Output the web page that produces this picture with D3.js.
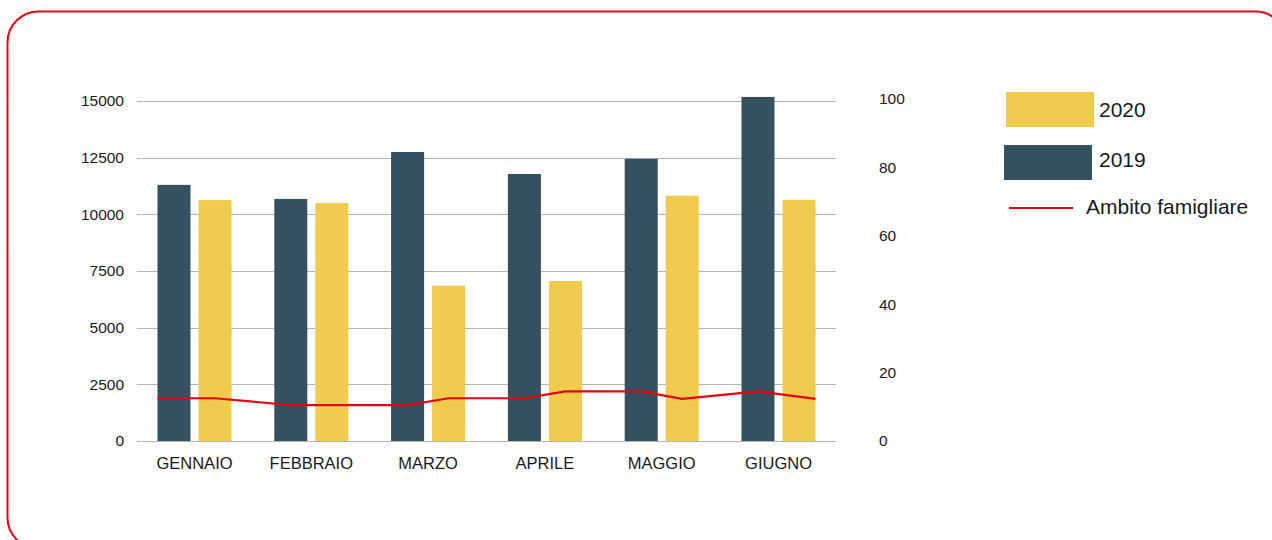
<!DOCTYPE html>
<html>
<head>
<meta charset="utf-8">
<script src="https://cdn.jsdelivr.net/npm/d3@7/dist/d3.min.js"></script>
<style>
  html, body { margin: 0; padding: 0; background: #fff; }
  svg { display: block; font-family: "Liberation Sans", Arial, Helvetica, sans-serif; }
</style>
</head>
<body>
<svg id="chart" width="1272" height="540"></svg>
<script>
// Monthly totals, 2019 vs 2020, with the "Ambito famigliare" share on the right axis
const months = ["GENNAIO", "FEBBRAIO", "MARZO", "APRILE", "MAGGIO", "GIUGNO"];
const years = ["2019", "2020"];
const values2019 = [11300, 10680, 12750, 11780, 12450, 15180];
const values2020 = [10630, 10500, 6850, 7060, 10820, 10640];
// one value per bar (month × year), read on the 0–100 scale
const famiglia = [12.5, 12.5, 10.5, 10.5, 10.5, 12.5, 12.5, 14.5, 14.5, 12.3, 14.5, 12.3];
const leftTicks = [0, 2500, 5000, 7500, 10000, 12500, 15000];
const rightTicks = [0, 20, 40, 60, 80, 100];

const colors = { "2019": "#35505e", "2020": "#f1cb4d" };
const red = "#e30613";

const svg = d3.select("#chart");

// rounded red frame
svg.append("rect")
  .attr("x", 7.5).attr("y", 11.5)
  .attr("width", 1279).attr("height", 537)
  .attr("rx", 31).attr("ry", 31)
  .attr("fill", "none").attr("stroke", red).attr("stroke-width", 2);

const plot = { left: 137, right: 836, top: 101, bottom: 441 };

const x0 = d3.scaleBand().domain(months)
  .range([plot.left, plot.right])
  .paddingInner(0.3664).paddingOuter(0.1755);
const x1 = d3.scaleBand().domain(years)
  .range([0, x0.bandwidth()])
  .paddingInner(0.195).paddingOuter(0);
const yL = d3.scaleLinear().domain([0, 15000]).range([plot.bottom, plot.top]);
const yR = d3.scaleLinear().domain([0, 100]).range([plot.bottom, 99]);

// gridlines
svg.append("g")
  .selectAll("line").data(leftTicks).join("line")
  .attr("x1", plot.left).attr("x2", plot.right)
  .attr("y1", d => Math.round(yL(d)) + 0.5).attr("y2", d => Math.round(yL(d)) + 0.5)
  .attr("stroke", "#b4b4b4").attr("stroke-width", 1.2);

// left axis labels
const leftAxis = svg.append("g")
  .attr("transform", `translate(${plot.left - 13},0)`)
  .call(d3.axisLeft(yL).tickValues(leftTicks).tickSize(0).tickPadding(0).tickFormat(d3.format("d")));
leftAxis.select(".domain").remove();
leftAxis.selectAll("text")
  .attr("font-size", 15.5).attr("fill", "#1a1a1a")
  .attr("font-family", "'Liberation Sans', Arial, sans-serif");

// right axis labels
const rightAxis = svg.append("g")
  .attr("transform", `translate(879,0)`)
  .call(d3.axisRight(yR).tickValues(rightTicks).tickSize(0).tickPadding(0).tickFormat(d3.format("d")));
rightAxis.select(".domain").remove();
rightAxis.selectAll("text")
  .attr("font-size", 15.5).attr("fill", "#1a1a1a")
  .attr("font-family", "'Liberation Sans', Arial, sans-serif");

// category labels
const bottomAxis = svg.append("g")
  .attr("transform", `translate(0,${plot.bottom})`)
  .call(d3.axisBottom(x0).tickSize(0).tickPadding(16));
bottomAxis.select(".domain").remove();
bottomAxis.selectAll("text")
  .attr("font-size", 16.5).attr("fill", "#1a1a1a")
  .attr("font-family", "'Liberation Sans', Arial, sans-serif");

// bars
const rows = months.map((m, i) => ({ month: m, "2019": values2019[i], "2020": values2020[i] }));
svg.append("g")
  .selectAll("g").data(rows).join("g")
  .attr("transform", d => `translate(${x0(d.month)},0)`)
  .selectAll("rect")
  .data(d => years.map(y => ({ year: y, value: d[y] })))
  .join("rect")
  .attr("x", d => x1(d.year))
  .attr("width", x1.bandwidth())
  .attr("y", d => yL(d.value))
  .attr("height", d => yL(0) - yL(d.value))
  .attr("fill", d => colors[d.year]);

// line points: one per bar centre; the ends reach the outer edges of the group
const linePts = [];
months.forEach((m, i) => {
  years.forEach((y, j) => {
    let px = x0(m) + x1(y) + x1.bandwidth() / 2;
    if (i === 0 && j === 0) px = x0(m);
    if (i === months.length - 1 && j === years.length - 1) px = x0(m) + x0.bandwidth();
    linePts.push([px, yR(famiglia[i * 2 + j])]);
  });
});
svg.append("path")
  .datum(linePts)
  .attr("d", d3.line())
  .attr("fill", "none").attr("stroke", red).attr("stroke-width", 2.2)
  .attr("stroke-linejoin", "round");

// legend
const legend = svg.append("g").attr("font-family", "'Liberation Sans', Arial, sans-serif")
  .attr("fill", "#1a1a1a");
legend.append("rect").attr("x", 1006).attr("y", 92).attr("width", 88).attr("height", 35).attr("fill", colors["2020"]);
legend.append("text").attr("x", 1099).attr("y", 110).attr("dy", "0.35em").attr("font-size", 21).text("2020");
legend.append("rect").attr("x", 1004).attr("y", 145).attr("width", 88).attr("height", 35).attr("fill", colors["2019"]);
legend.append("text").attr("x", 1099).attr("y", 160).attr("dy", "0.35em").attr("font-size", 21).text("2019");
legend.append("line").attr("x1", 1009).attr("x2", 1073).attr("y1", 208).attr("y2", 208)
  .attr("stroke", red).attr("stroke-width", 2);
legend.append("text").attr("x", 1086).attr("y", 207).attr("dy", "0.35em").attr("font-size", 21).text("Ambito famigliare");
</script>
</body>
</html>
